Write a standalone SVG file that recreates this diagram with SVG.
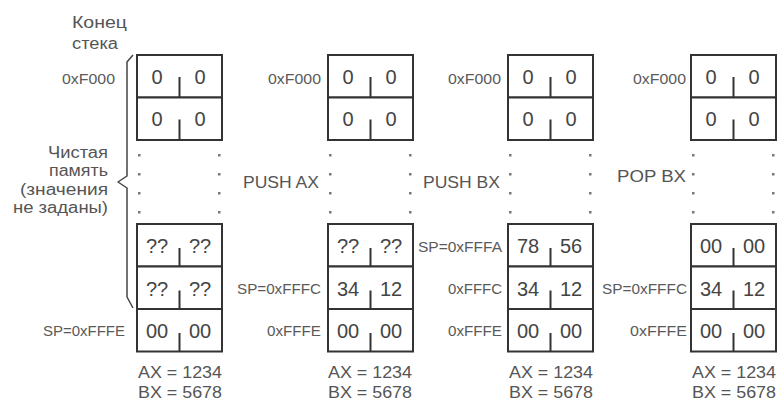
<svg xmlns="http://www.w3.org/2000/svg" width="782" height="401" viewBox="0 0 782 401">
<style>
  .cell{fill:#fff;stroke:#333;stroke-width:2}
  .tick{stroke:#333;stroke-width:2}
  .d{font-family:"Liberation Sans",Arial,sans-serif;font-size:20px;fill:#444;text-anchor:middle}
  .lb{font-family:"Liberation Sans",Arial,sans-serif;font-size:14px;fill:#5a5a5a;text-anchor:end}
  .t{font-family:"Liberation Sans",Arial,sans-serif;font-size:16px;fill:#555}
  .op{font-family:"Liberation Sans",Arial,sans-serif;font-size:17px;fill:#555}
  .dot{fill:#777}
  .brace{fill:none;stroke:#444;stroke-width:1.5;stroke-linejoin:round}
</style>
<defs>
  <g id="dots">
    <rect x="1" y="154" width="2.5" height="2.5" class="dot"/>
    <rect x="1" y="173" width="2.5" height="2.5" class="dot"/>
    <rect x="1" y="192" width="2.5" height="2.5" class="dot"/>
    <rect x="1" y="211" width="2.5" height="2.5" class="dot"/>
    <rect x="81" y="154" width="2.5" height="2.5" class="dot"/>
    <rect x="81" y="173" width="2.5" height="2.5" class="dot"/>
    <rect x="81" y="192" width="2.5" height="2.5" class="dot"/>
    <rect x="81" y="211" width="2.5" height="2.5" class="dot"/>
  </g>
  <g id="top">
    <rect x="0" y="55" width="85" height="42.5" class="cell"/>
    <rect x="0" y="97.5" width="85" height="42.5" class="cell"/>
    <line x1="42.5" y1="77" x2="42.5" y2="97.5" class="tick"/>
    <line x1="42.5" y1="119.5" x2="42.5" y2="140" class="tick"/>
    <text x="20" y="83.5" class="d">0</text><text x="63" y="83.5" class="d">0</text>
    <text x="20" y="126" class="d">0</text><text x="63" y="126" class="d">0</text>
  </g>
  <g id="bottom">
    <rect x="0" y="224" width="85" height="42.5" class="cell"/>
    <rect x="0" y="266.5" width="85" height="42.5" class="cell"/>
    <rect x="0" y="309" width="85" height="42.5" class="cell"/>
    <line x1="42.5" y1="248" x2="42.5" y2="266.5" class="tick"/>
    <line x1="42.5" y1="290.5" x2="42.5" y2="309" class="tick"/>
    <line x1="42.5" y1="333" x2="42.5" y2="351.5" class="tick"/>
    <text x="20" y="338" class="d">00</text><text x="63" y="338" class="d">00</text>
  </g>
</defs>

<g id="brace">
  <path class="brace" d="M133,55 L127,62 L127,176 L118,182 L127,188 L127,297 L133,308"/>
</g>

<g id="legend">
  <text x="72" y="28" class="t" textLength="55" lengthAdjust="spacingAndGlyphs">Конец</text>
  <text x="72" y="49" class="t" textLength="46" lengthAdjust="spacingAndGlyphs">стека</text>
  <text x="108" y="158" class="t" text-anchor="end" textLength="60" lengthAdjust="spacingAndGlyphs">Чистая</text>
  <text x="108" y="176" class="t" text-anchor="end" textLength="59" lengthAdjust="spacingAndGlyphs">память</text>
  <text x="108" y="195" class="t" text-anchor="end" textLength="88" lengthAdjust="spacingAndGlyphs">(значения</text>
  <text x="108" y="213" class="t" text-anchor="end" textLength="95" lengthAdjust="spacingAndGlyphs">не заданы)</text>
</g>

<g id="stack-1">
  <use href="#top" x="137"/>
  <use href="#dots" x="137"/>
  <use href="#bottom" x="137"/>
  <text x="157" y="253" class="d">??</text><text x="200" y="253" class="d">??</text>
  <text x="157" y="295.5" class="d">??</text><text x="200" y="295.5" class="d">??</text>
  <text x="115" y="84" class="lb" textLength="53" lengthAdjust="spacingAndGlyphs">0xF000</text>
  <text x="125" y="336" class="lb" textLength="82" lengthAdjust="spacingAndGlyphs">SP=0xFFFE</text>
  <text x="138" y="378" class="t" textLength="84" lengthAdjust="spacingAndGlyphs">AX = 1234</text>
  <text x="138" y="398" class="t" textLength="84" lengthAdjust="spacingAndGlyphs">BX = 5678</text>
</g>

<g id="stack-2">
  <use href="#top" x="328"/>
  <use href="#dots" x="328"/>
  <use href="#bottom" x="328"/>
  <text x="348" y="253" class="d">??</text><text x="391" y="253" class="d">??</text>
  <text x="348" y="295.5" class="d">34</text><text x="391" y="295.5" class="d">12</text>
  <text x="243" y="188" class="op" textLength="76" lengthAdjust="spacingAndGlyphs">PUSH AX</text>
  <text x="321" y="84" class="lb" textLength="53" lengthAdjust="spacingAndGlyphs">0xF000</text>
  <text x="321" y="294" class="lb" textLength="84" lengthAdjust="spacingAndGlyphs">SP=0xFFFC</text>
  <text x="321" y="336" class="lb" textLength="54" lengthAdjust="spacingAndGlyphs">0xFFFE</text>
  <text x="328" y="378" class="t" textLength="84" lengthAdjust="spacingAndGlyphs">AX = 1234</text>
  <text x="328" y="398" class="t" textLength="84" lengthAdjust="spacingAndGlyphs">BX = 5678</text>
</g>

<g id="stack-3">
  <use href="#top" x="508"/>
  <use href="#dots" x="508"/>
  <use href="#bottom" x="508"/>
  <text x="528" y="253" class="d">78</text><text x="571" y="253" class="d">56</text>
  <text x="528" y="295.5" class="d">34</text><text x="571" y="295.5" class="d">12</text>
  <text x="423" y="188" class="op" textLength="77" lengthAdjust="spacingAndGlyphs">PUSH BX</text>
  <text x="501" y="84" class="lb" textLength="53" lengthAdjust="spacingAndGlyphs">0xF000</text>
  <text x="502" y="252" class="lb" textLength="84" lengthAdjust="spacingAndGlyphs">SP=0xFFFA</text>
  <text x="502" y="294" class="lb" textLength="54" lengthAdjust="spacingAndGlyphs">0xFFFC</text>
  <text x="502" y="336" class="lb" textLength="54" lengthAdjust="spacingAndGlyphs">0xFFFE</text>
  <text x="509" y="378" class="t" textLength="84" lengthAdjust="spacingAndGlyphs">AX = 1234</text>
  <text x="509" y="398" class="t" textLength="84" lengthAdjust="spacingAndGlyphs">BX = 5678</text>
</g>

<g id="stack-4">
  <use href="#top" x="691"/>
  <use href="#dots" x="691"/>
  <use href="#bottom" x="691"/>
  <text x="711" y="253" class="d">00</text><text x="754" y="253" class="d">00</text>
  <text x="711" y="295.5" class="d">34</text><text x="754" y="295.5" class="d">12</text>
  <text x="617" y="182" class="op" textLength="69" lengthAdjust="spacingAndGlyphs">POP BX</text>
  <text x="686" y="84" class="lb" textLength="53" lengthAdjust="spacingAndGlyphs">0xF000</text>
  <text x="687" y="294" class="lb" textLength="85" lengthAdjust="spacingAndGlyphs">SP=0xFFFC</text>
  <text x="687" y="336" class="lb" textLength="57" lengthAdjust="spacingAndGlyphs">0xFFFE</text>
  <text x="692" y="378" class="t" textLength="84" lengthAdjust="spacingAndGlyphs">AX = 1234</text>
  <text x="692" y="398" class="t" textLength="84" lengthAdjust="spacingAndGlyphs">BX = 5678</text>
</g>
</svg>
